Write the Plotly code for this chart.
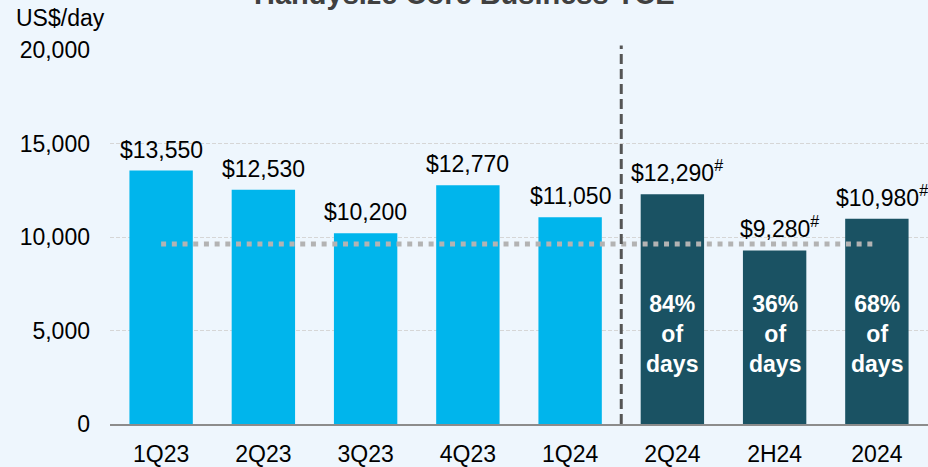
import plotly.graph_objects as go

categories = ["1Q23", "2Q23", "3Q23", "4Q23", "1Q24", "2Q24", "2H24", "2024"]
tce_values = [13550, 12530, 10200, 12770, 11050, 12290, 9280, 10980]
is_forward = [False, False, False, False, False, True, True, True]
value_labels = ["$13,550", "$12,530", "$10,200", "$12,770", "$11,050", "$12,290", "$9,280", "$10,980"]
covered_labels = ["", "", "", "", "", "84%<br>of<br>days", "36%<br>of<br>days", "68%<br>of<br>days"]
reference_level = 9630
y_ticks = [0, 5000, 10000, 15000, 20000]
y_tick_text = ["0", "5,000", "10,000", "15,000", "20,000"]

FONT = "Liberation Sans, Arial, sans-serif"
LIGHT = "#00B5EC"
DARK = "#1A5263"
BG = "#EEF6FD"

colors = [DARK if f else LIGHT for f in is_forward]

fig = go.Figure()
fig.add_trace(go.Bar(
    x=categories, y=tce_values, marker=dict(color=colors, line=dict(width=0)),
    hoverinfo="skip", showlegend=False,
))

annotations = []
for i, (v, lab, fwd, cov) in enumerate(zip(tce_values, value_labels, is_forward, covered_labels)):
    txt = lab + ("<sup>#</sup>" if fwd else "")
    annotations.append(dict(
        x=i, y=v, xref="x", yref="y", text=txt, showarrow=False,
        yanchor="bottom", xanchor="center", yshift=6, xshift=5 if fwd else 0,
        font=dict(family=FONT, size=23, color="#000000"),
    ))
    if cov:
        annotations.append(dict(
            x=i, y=4800, xref="x", yref="y", text="<b>" + cov + "</b>", showarrow=False,
            yanchor="middle", xanchor="center",
            font=dict(family=FONT, size=23, color="#FFFFFF"),
        ))

annotations.append(dict(
    x=0.4328, y=1, xref="paper", yref="paper", yanchor="bottom", xanchor="center",
    yshift=38, showarrow=False, text="<b>Handysize Core Business TCE</b>",
    font=dict(family=FONT, size=29, color="#404040"),
))
annotations.append(dict(
    x=-0.117, y=1, xref="paper", yref="paper", yanchor="bottom", xanchor="left",
    yshift=17, showarrow=False, text="US$/day",
    font=dict(family=FONT, size=23, color="#000000"),
))

shapes = [
    dict(type="line", xref="x", yref="y", x0=0, x1=6.97, y0=reference_level, y1=reference_level,
         line=dict(color="#B3B3B3", width=5, dash="5px,5.7px"), layer="above"),
    dict(type="line", xref="x", yref="paper", x0=4.5, x1=4.5, y0=0, y1=1.012,
         line=dict(color="#555555", width=3, dash="10px,5px"), layer="above"),
]

fig.update_layout(
    width=928, height=467,
    margin=dict(l=110, r=0, t=50, b=43),
    paper_bgcolor=BG, plot_bgcolor=BG,
    bargap=0.38,
    font=dict(family=FONT, size=23, color="#000000"),
    annotations=annotations, shapes=shapes,
    xaxis=dict(type="category", range=[-0.5, 7.5], showline=True, linecolor="#8C8C8C", linewidth=2,
               showgrid=False, ticks="", tickfont=dict(size=23, color="#000000"), ticklabelstandoff=8),
    yaxis=dict(range=[0, 20000], tickvals=y_ticks, ticktext=y_tick_text,
               showgrid=True, gridcolor="#D6D6D6", gridwidth=1, griddash="4px,2px",
               zeroline=False, showline=False, ticks="",
               tickfont=dict(size=23, color="#000000"), ticklabelstandoff=19),
)

fig.write_html("out.html", config={"displayModeBar": False},
               post_script="document.body.style.margin='0';document.body.style.background='%s';" % BG)
